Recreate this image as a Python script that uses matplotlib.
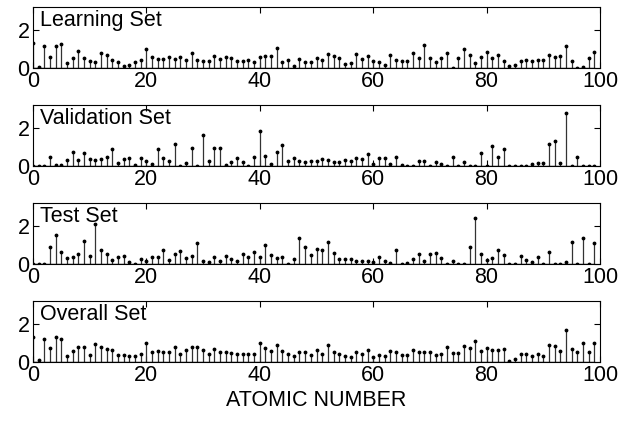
import numpy as np
import matplotlib
matplotlib.use("Agg")
import matplotlib.pyplot as plt

plt.rcParams['font.family'] = ['Liberation Sans', 'DejaVu Sans']

atomic = np.arange(0, 100)

learning = [1.3, 0.05, 1.15, 0.6, 1.15, 1.25, 0.25, 0.55, 0.9, 0.55,
            0.35, 0.3, 0.8, 0.7, 0.4, 0.3, 0.1, 0.15, 0.3, 0.4,
            1.0, 0.6, 0.45, 0.45, 0.6, 0.45, 0.6, 0.4, 0.8, 0.4,
            0.35, 0.35, 0.65, 0.47, 0.6, 0.5, 0.39, 0.39, 0.42, 0.33,
            0.56, 0.65, 0.65, 1.03, 0.33, 0.42, 0.12, 0.47, 0.33, 0.33,
            0.5, 0.42, 0.74, 0.61, 0.54, 0.19, 0.26, 0.72, 0.46, 0.63,
            0.35, 0.3, 0.18, 0.7, 0.42, 0.39, 0.37, 0.78, 0.51, 1.21,
            0.51, 0.3, 0.53, 0.77, 0.02, 0.51, 1.0, 0.68, 0.26, 0.56,
            0.86, 0.53, 0.68, 0.37, 0.09, 0.16, 0.39, 0.44, 0.35, 0.44,
            0.44, 0.68, 0.56, 0.61, 1.18, 0.39, 0.02, 0.07, 0.51, 0.82]

validation = [0.02, 0.02, 0.02, 0.49, 0.03, 0.03, 0.3, 0.75, 0.33, 0.7,
              0.38, 0.33, 0.35, 0.47, 0.9, 0.14, 0.38, 0.4, 0.03, 0.43,
              0.28, 0.09, 0.89, 0.43, 0.28, 1.15, 0.02, 0.14, 0.97, 0.02,
              1.64, 0.28, 0.92, 0.93, 0.05, 0.23, 0.4, 0.19, 0.02, 0.49,
              1.84, 0.54, 0.1, 0.71, 1.1, 0.26, 0.4, 0.26, 0.23, 0.26,
              0.26, 0.35, 0.31, 0.19, 0.19, 0.33, 0.26, 0.4, 0.35, 0.63,
              0.09, 0.4, 0.4, 0.09, 0.45, 0.05, 0.02, 0.02, 0.24, 0.24,
              0.02, 0.21, 0.1, 0.02, 0.49, 0.02, 0.21, 0.02, 0.02, 0.68,
              0.02, 1.03, 0.47, 0.9, 0.02, 0.02, 0.02, 0.02, 0.1, 0.16,
              0.16, 1.15, 1.32, 0.14, 2.8, 0.02, 0.47, 0.02, 0.02, 0.02]

test = [0.02, 0.02, 0.02, 0.88, 1.53, 0.63, 0.33, 0.39, 0.51, 1.23,
        0.42, 2.09, 0.72, 0.53, 0.21, 0.39, 0.44, 0.12, 0.02, 0.26,
        0.18, 0.35, 0.35, 0.74, 0.21, 0.51, 0.67, 0.3, 0.42, 1.12,
        0.18, 0.12, 0.37, 0.14, 0.44, 0.25, 0.16, 0.53, 0.39, 0.61,
        0.39, 1.0, 0.49, 0.33, 0.37, 0.02, 0.25, 1.35, 0.91, 0.46,
        0.81, 0.72, 1.16, 0.56, 0.25, 0.25, 0.25, 0.16, 0.18, 0.18,
        0.12, 0.37, 0.18, 0.04, 0.72, 0.02, 0.03, 0.25, 0.51, 0.16,
        0.53, 0.56, 0.32, 0.02, 0.16, 0.02, 0.02, 0.88, 2.4, 0.53,
        0.21, 0.3, 0.74, 0.49, 0.02, 0.02, 0.42, 0.21, 0.1, 0.37,
        0.02, 0.61, 0.02, 0.02, 0.09, 1.16, 0.02, 1.39, 0.02, 1.09]

overall = [1.27, 0.1, 1.18, 0.7, 1.3, 1.18, 0.3, 0.56, 0.78, 0.78,
           0.35, 0.94, 0.78, 0.66, 0.6, 0.35, 0.35, 0.31, 0.31, 0.43,
           1.0, 0.52, 0.56, 0.52, 0.49, 0.75, 0.4, 0.64, 0.78, 0.75,
           0.59, 0.42, 0.66, 0.5, 0.52, 0.47, 0.38, 0.38, 0.4, 0.43,
           0.99, 0.73, 0.57, 0.87, 0.57, 0.38, 0.3, 0.52, 0.5, 0.35,
           0.6, 0.4, 0.85, 0.52, 0.4, 0.3, 0.23, 0.5, 0.4, 0.6,
           0.23, 0.35, 0.31, 0.56, 0.52, 0.37, 0.35, 0.64, 0.49, 0.52,
           0.49, 0.35, 0.4, 0.75, 0.47, 0.47, 0.8, 0.73, 1.11, 0.57,
           0.73, 0.63, 0.63, 0.66, 0.02, 0.14, 0.38, 0.38, 0.28, 0.38,
           0.31, 0.85, 0.82, 0.56, 1.65, 0.66, 0.52, 0.99, 0.52, 0.96]

titles = ["Learning Set", "Validation Set", "Test Set", "Overall Set"]
series = [learning, validation, test, overall]
xticks = [0, 20, 40, 60, 80, 100]
yticks = [0, 2]

W, H = 632, 422
fig = plt.figure(figsize=(W / 100, H / 100), dpi=100)
left, right = 33, 600
panel_tops = [7, 105, 203, 300.7]
ph = 61
fs = 15.5

for title, vals, top in zip(titles, series, panel_tops):
    ax = fig.add_axes([left / W, 1 - (top + ph) / H, (right - left) / W, ph / H])
    ml, sl, bl = ax.stem(atomic, vals, linefmt='k-', markerfmt='k.', basefmt='k-')
    plt.setp(sl, linewidth=0.9, color='#333333')
    plt.setp(ml, markersize=3.5)
    plt.setp(bl, linewidth=1.0)
    ax.set_xlim(0, 100)
    ax.set_ylim(0, 3.2)
    ax.set_xticks(xticks)
    ax.set_yticks(yticks)
    ax.tick_params(direction='in', top=True, right=True, length=4,
                   labelsize=fs, pad=2.5, width=0.8)
    for s in ax.spines.values():
        s.set_linewidth(0.8)
    ax.text(0.012, 0.945, title, transform=ax.transAxes, fontsize=fs,
            va='top', ha='left')

fig.text((left + right) / 2 / W, 1 - 401 / H, "ATOMIC NUMBER", ha='center',
         va='center', fontsize=fs)

fig.savefig("out.png", dpi=100)
